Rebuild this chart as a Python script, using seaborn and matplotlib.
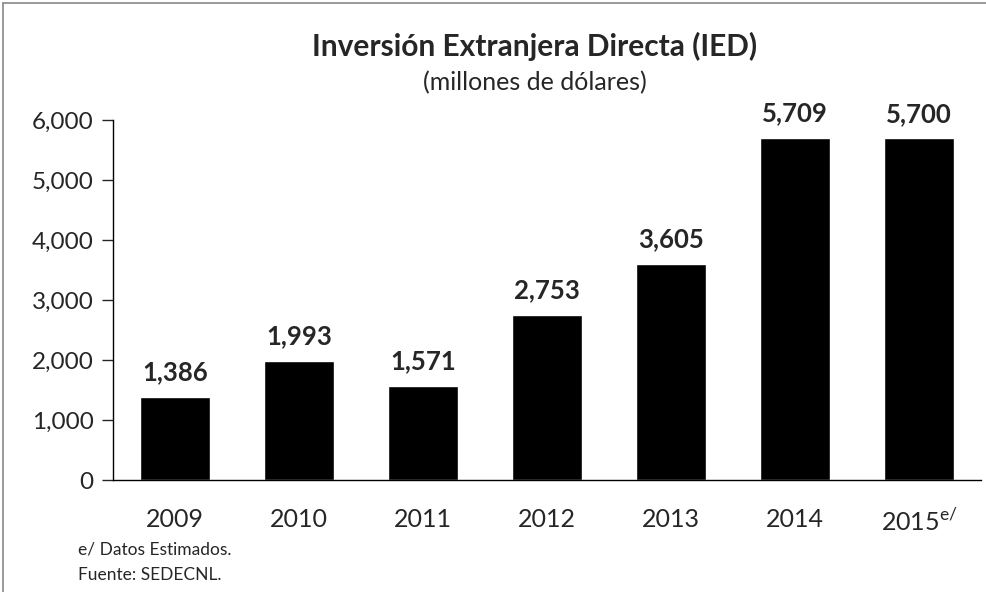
import matplotlib
matplotlib.use('Agg')
import matplotlib.pyplot as plt
import seaborn as sns
import pandas as pd
from matplotlib.lines import Line2D

years = ['2009', '2010', '2011', '2012', '2013', '2014', '2015']
ied = [1386, 1993, 1571, 2753, 3605, 5709, 5700]
yticks = [0, 1000, 2000, 3000, 4000, 5000, 6000]

sns.set_style('white')
plt.rcParams['font.family'] = ['Lato', 'DejaVu Sans']

df = pd.DataFrame({'year': years, 'ied': ied})

fig = plt.figure(figsize=(9.87, 5.92), dpi=100)
ax = fig.add_axes([0.1145, 0.189, 0.8795, 0.608])

sns.barplot(data=df, x='year', y='ied', color='black', width=0.57,
            saturation=1, ax=ax)

for i, v in enumerate(ied):
    ax.annotate(f'{v:,}', (i, v), xytext=(0, 9), textcoords='offset points',
                ha='center', va='bottom', fontsize=18.5, fontweight='bold')

ax.set_ylim(0, 6000)
ax.set_xlim(-0.5, len(years) - 0.5)
ax.set_yticks(yticks)
ax.set_yticklabels([f'{t:,}' for t in yticks], fontsize=17.5)
ax.set_xticks(range(len(years)))
labels = years[:-1] + [years[-1] + r'$^{\mathregular{e/}}$']
ax.set_xticklabels(labels, fontsize=18)
ax.tick_params(axis='x', which='major', length=0, pad=20)
ax.set_xticks([i + 0.5 for i in range(len(years))], minor=True)
ax.tick_params(axis='x', which='minor', length=8, direction='out', width=1)
ax.tick_params(axis='y', length=8, direction='out', width=1, left=True, pad=6)
ax.set_xlabel('')
ax.set_ylabel('')
for s in ['top', 'right']:
    ax.spines[s].set_visible(False)
for s in ['left', 'bottom']:
    ax.spines[s].set_color('black')
    ax.spines[s].set_linewidth(1)

fig.text(0.542, 0.922, 'Inversión Extranjera Directa (IED)', ha='center',
         va='center', fontsize=21.5, fontweight='bold')
fig.text(0.542, 0.86, '(millones de dólares)', ha='center', va='center',
         fontsize=18)
fig.text(0.079, 0.071, 'e/ Datos Estimados.', ha='left', va='center', fontsize=12.5)
fig.text(0.079, 0.028, 'Fuente: SEDECNL.', ha='left', va='center', fontsize=12.5)

# scan frame
fig.add_artist(Line2D([0.003, 0.003], [0.0, 0.995], transform=fig.transFigure,
                      color='#888888', lw=1.2))
fig.add_artist(Line2D([0.003, 1.0], [0.995, 0.995], transform=fig.transFigure,
                      color='#888888', lw=1.2))

fig.savefig('out.png', dpi=100)
